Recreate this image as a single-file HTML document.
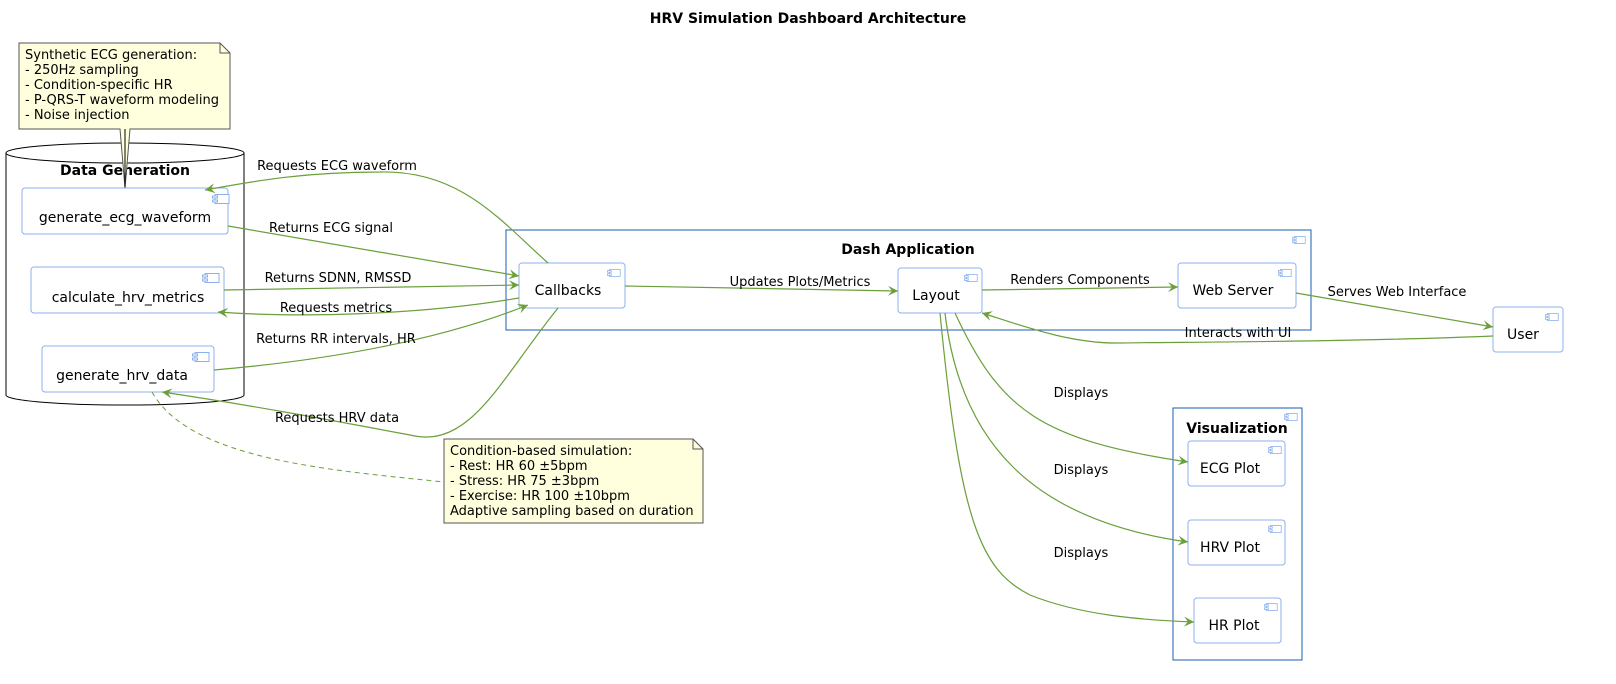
<!DOCTYPE html>
<html><head><meta charset="utf-8"><style>
html,body{margin:0;padding:0;background:#fff;overflow:hidden;width:1616px;height:684px}
svg{display:block;font-family:"DejaVu Sans","Liberation Sans",sans-serif}
.c{fill:#fff;stroke:#8cb0ee;stroke-width:1}
.t{font-size:14px;fill:#000}
.e{fill:none;stroke:#6a9f3a;stroke-width:1.2}
.l{font-size:13px;fill:#000}
.n{font-size:13px;fill:#000}
</style></head><body>
<svg width="1616" height="684" viewBox="0 0 1616 684" xmlns="http://www.w3.org/2000/svg">
<defs>
<marker id="a" markerWidth="12" markerHeight="10" refX="10" refY="5" orient="auto" markerUnits="userSpaceOnUse">
<path d="M0,0 L10,5 L0,10 L4,5 Z" fill="#6a9f3a"/></marker>
<symbol id="ic" viewBox="0 0 18 10"><rect x="3" y="0.5" width="14" height="9" fill="#fff" stroke="#8cb0ee"/><rect x="0.5" y="2" width="5" height="2" fill="#fff" stroke="#8cb0ee"/><rect x="0.5" y="6" width="5" height="2" fill="#fff" stroke="#8cb0ee"/></symbol>
</defs>
<text x="808" y="23" text-anchor="middle" font-weight="bold" font-size="14">HRV Simulation Dashboard Architecture</text>

<path d="M6,153 L6,395 A119,10 0 0 0 244,395 L244,153" fill="#fff" stroke="#000"/>
<ellipse cx="125" cy="153" rx="119" ry="10" fill="#fff" stroke="#000"/>
<text x="125" y="175" text-anchor="middle" font-weight="bold" font-size="14">Data Generation</text>

<path d="M19,43 L220,43 L230,53 L230,129 L130,129 L125,188 L120,129 L19,129 Z" fill="#ffffdd" stroke="#555"/>
<path d="M220,43 L220,53 L230,53" fill="none" stroke="#555"/>
<text class="n" x="25" y="59">Synthetic ECG generation:</text>
<text class="n" x="25" y="74">- 250Hz sampling</text>
<text class="n" x="25" y="89">- Condition-specific HR</text>
<text class="n" x="25" y="104">- P-QRS-T waveform modeling</text>
<text class="n" x="25" y="119">- Noise injection</text>
<line x1="125" y1="129" x2="125" y2="188" stroke="#000"/>

<rect class="c" x="22" y="188" width="206" height="46" rx="3"/><use href="#ic" x="212" y="194" width="18" height="10"/>
<text class="t" x="125" y="222" text-anchor="middle">generate_ecg_waveform</text>
<rect class="c" x="31" y="267" width="193" height="46" rx="3"/><use href="#ic" x="202" y="273" width="18" height="10"/>
<text class="t" x="128" y="302" text-anchor="middle">calculate_hrv_metrics</text>
<rect class="c" x="42" y="346" width="172" height="46" rx="3"/><use href="#ic" x="192" y="352" width="18" height="10"/>
<text class="t" x="122" y="380" text-anchor="middle">generate_hrv_data</text>

<rect x="506" y="230" width="805" height="100" fill="none" stroke="#1a5fb4"/>
<use href="#ic" x="1292" y="236" width="14" height="8"/>
<text x="908" y="254" text-anchor="middle" font-weight="bold" font-size="14">Dash Application</text>
<rect class="c" x="519" y="263" width="106" height="45" rx="3"/><use href="#ic" x="607" y="269" width="14" height="8"/>
<text class="t" x="568" y="295" text-anchor="middle">Callbacks</text>
<rect class="c" x="898" y="268" width="84" height="45" rx="3"/><use href="#ic" x="964" y="274" width="14" height="8"/>
<text class="t" x="936" y="300" text-anchor="middle">Layout</text>
<rect class="c" x="1178" y="263" width="118" height="45" rx="3"/><use href="#ic" x="1278" y="269" width="14" height="8"/>
<text class="t" x="1233" y="295" text-anchor="middle">Web Server</text>

<rect class="c" x="1493" y="307" width="70" height="45" rx="3"/><use href="#ic" x="1545" y="313" width="14" height="8"/>
<text class="t" x="1523" y="339" text-anchor="middle">User</text>

<rect x="1173" y="408" width="129" height="252" fill="none" stroke="#1a5fb4"/>
<use href="#ic" x="1284" y="413" width="14" height="8"/>
<text x="1237" y="433" text-anchor="middle" font-weight="bold" font-size="14">Visualization</text>
<rect class="c" x="1188" y="441" width="97" height="45" rx="3"/><use href="#ic" x="1268" y="446" width="14" height="8"/>
<text class="t" x="1230" y="473" text-anchor="middle">ECG Plot</text>
<rect class="c" x="1188" y="520" width="97" height="45" rx="3"/><use href="#ic" x="1268" y="525" width="14" height="8"/>
<text class="t" x="1230" y="552" text-anchor="middle">HRV Plot</text>
<rect class="c" x="1194" y="598" width="87" height="45" rx="3"/><use href="#ic" x="1264" y="603" width="14" height="8"/>
<text class="t" x="1234" y="630" text-anchor="middle">HR Plot</text>

<path d="M444,439 L693,439 L703,449 L703,523 L444,523 Z" fill="#ffffdd" stroke="#555"/>
<path d="M693,439 L693,449 L703,449" fill="none" stroke="#555"/>
<text class="n" x="450" y="455">Condition-based simulation:</text>
<text class="n" x="450" y="470">- Rest: HR 60 ±5bpm</text>
<text class="n" x="450" y="485">- Stress: HR 75 ±3bpm</text>
<text class="n" x="450" y="500">- Exercise: HR 100 ±10bpm</text>
<text class="n" x="450" y="515">Adaptive sampling based on duration</text>
<path d="M152,392 C190,460 330,470 444,482" fill="none" stroke="#6a9f3a" stroke-dasharray="5,4"/>

<path class="e" marker-end="url(#a)" d="M548,263 C500,220 460,170 380,172 C300,172 250,182 205,190"/>
<text class="l" x="337" y="170" text-anchor="middle">Requests ECG waveform</text>
<path class="e" marker-end="url(#a)" d="M228,226 L519,276"/>
<text class="l" x="331" y="232" text-anchor="middle">Returns ECG signal</text>
<path class="e" marker-end="url(#a)" d="M224,290 L519,285"/>
<text class="l" x="338" y="282" text-anchor="middle">Returns SDNN, RMSSD</text>
<path class="e" marker-end="url(#a)" d="M519,298 C420,315 300,318 218,312"/>
<text class="l" x="336" y="312" text-anchor="middle">Requests metrics</text>
<path class="e" marker-end="url(#a)" d="M214,370 C330,360 440,340 528,305"/>
<text class="l" x="336" y="343" text-anchor="middle">Returns RR intervals, HR</text>
<path class="e" marker-end="url(#a)" d="M558,308 C500,380 470,450 410,435 C330,420 250,405 162,392"/>
<text class="l" x="337" y="422" text-anchor="middle">Requests HRV data</text>
<path class="e" marker-end="url(#a)" d="M625,286 L898,291"/>
<text class="l" x="800" y="286" text-anchor="middle">Updates Plots/Metrics</text>
<path class="e" marker-end="url(#a)" d="M982,290 L1178,287"/>
<text class="l" x="1080" y="284" text-anchor="middle">Renders Components</text>
<path class="e" marker-end="url(#a)" d="M1296,293 L1493,327"/>
<text class="l" x="1397" y="296" text-anchor="middle">Serves Web Interface</text>
<path class="e" marker-end="url(#a)" d="M1493,336 C1350,342 1180,342 1120,343 C1070,344 1020,325 982,313"/>
<text class="l" x="1238" y="337" text-anchor="middle">Interacts with UI</text>
<path class="e" marker-end="url(#a)" d="M955,313 C1000,410 1040,440 1188,462"/>
<text class="l" x="1081" y="397" text-anchor="middle">Displays</text>
<path class="e" marker-end="url(#a)" d="M945,313 C960,440 1030,520 1188,542"/>
<text class="l" x="1081" y="474" text-anchor="middle">Displays</text>
<path class="e" marker-end="url(#a)" d="M940,313 C960,520 980,570 1030,595 C1080,615 1140,620 1194,622"/>
<text class="l" x="1081" y="557" text-anchor="middle">Displays</text>
</svg>
</body></html>
